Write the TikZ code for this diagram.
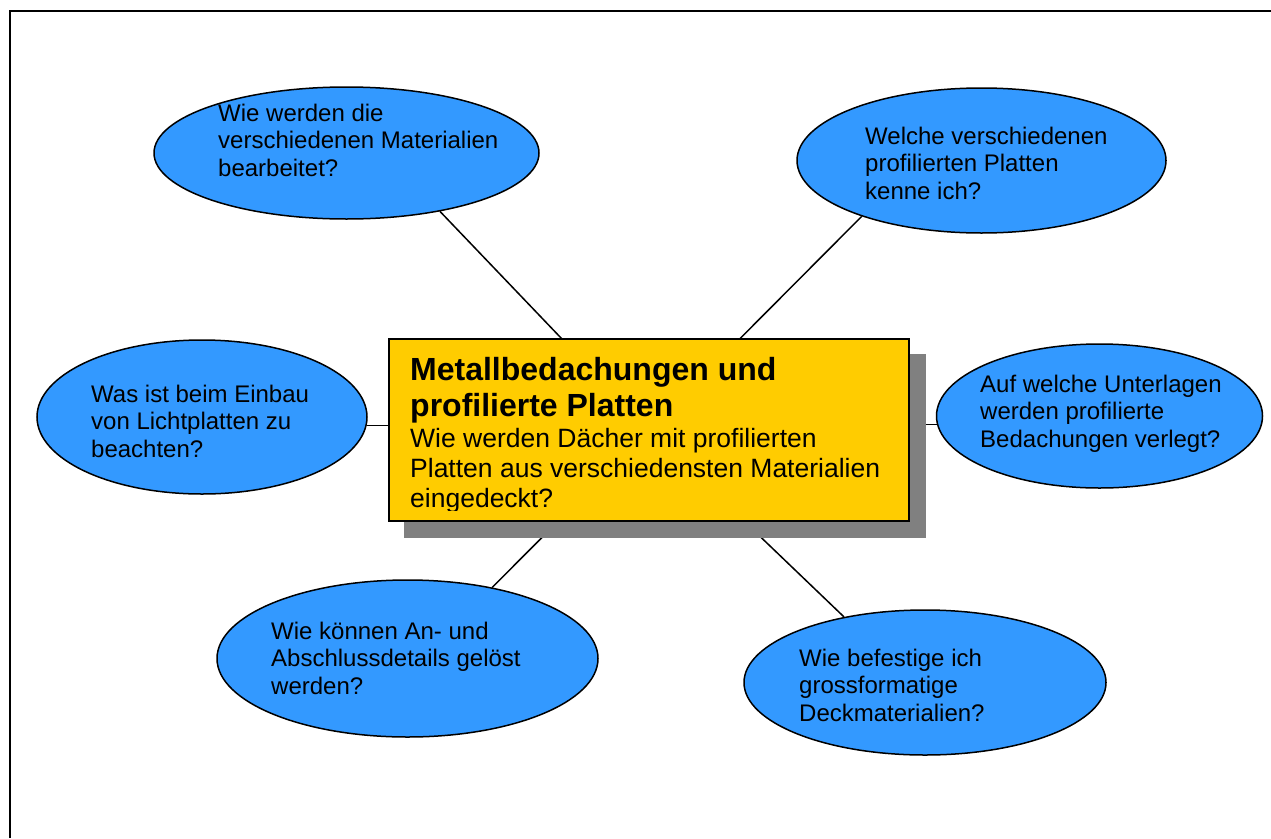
\documentclass[tikz,border=0pt]{standalone}
\usepackage{fontspec}
\setmainfont{Liberation Sans}
\usetikzlibrary{shapes.geometric,calc}
\pgfdeclarelayer{bg}
\pgfsetlayers{bg,main}
\definecolor{qblue}{RGB}{51,153,255}
\definecolor{qyellow}{RGB}{255,204,0}
\definecolor{qshadow}{RGB}{128,128,128}
\begin{document}
\begin{tikzpicture}[x=1pt,y=-1pt,
  bubble/.style={ellipse, draw=black, line width=1.5pt, fill=qblue, inner sep=0pt},
  qtext/.style={anchor=base west, align=left, inner sep=0pt, font=\fontsize{24}{27.6}\selectfont},
  link/.style={draw=black, line width=1.5pt},
  centerbox/.style={draw=black, line width=2pt, fill=qyellow, inner sep=0pt, minimum width=520pt, minimum height=182pt}]
\useasboundingbox (0,0) rectangle (1271,838);
\draw[line width=2pt] (10,838) -- (10,11) -- (1271,11);

% bubbles
\node[bubble, minimum width=385pt, minimum height=132pt] (e1) at (346.5,153) {};
\node[bubble, minimum width=369pt, minimum height=145pt] (e2) at (981.5,160.5) {};
\node[bubble, minimum width=330pt, minimum height=154pt] (e3) at (202,417) {};
\node[bubble, minimum width=326pt, minimum height=144pt] (e4) at (1099.5,416) {};
\node[bubble, minimum width=381pt, minimum height=157pt] (e5) at (407.5,658.5) {};
\node[bubble, minimum width=362pt, minimum height=145pt] (e6) at (925,682.5) {};

% central box
\node[centerbox] (box) at (649,430) {};

% connectors and shadow behind
\begin{pgfonlayer}{bg}
  \draw[link] (e1.-32.5) -- (box.center);
  \draw[link] (e2.205.3) -- (box.center);
  \draw[link] (e3.-3) -- (e3.-3 -| box.west);
  \draw[link] (e4.183) -- (e4.183 -| box.east);
  \draw[link] (e5.40.3) -- (box.center);
  \draw[link] (e6.141.1) -- (box.center);
  \fill[qshadow] ($(box.north west)+(16,16)$) rectangle ($(box.south east)+(16,16)$);
\end{pgfonlayer}

% bubble texts (anchor at baseline of last line)
\node[qtext] (t1) at (218,176.2) {Wie werden die\\verschiedenen Materialien\\bearbeitet?};
\node[qtext] (t2) at (865,199.2) {Welche verschiedenen\\profilierten Platten\\kenne ich?};
\node[qtext] (t3) at (91,457.2) {Was ist beim Einbau\\von Lichtplatten zu\\beachten?};
\node[qtext] (t4) at (980,447.2) {Auf welche Unterlagen\\werden profilierte\\Bedachungen verlegt?};
\node[qtext] (t5) at (271,694.2) {Wie können An- und\\Abschlussdetails gelöst\\werden?};
\node[qtext] (t6) at (799,721.2) {Wie befestige ich\\grossformatige\\Deckmaterialien?};

% box texts
\node[anchor=base west, align=left, inner sep=0pt, font=\bfseries\fontsize{32}{36}\selectfont] (title) at (410,416) {Metallbedachungen und\\profilierte Platten};
\begin{scope}
  \clip (389,339) rectangle (909,510);
  \node[anchor=base west, align=left, inner sep=0pt, font=\fontsize{26.5}{30}\selectfont] (body) at (410,507) {Wie werden Dächer mit profilierten\\Platten aus verschiedensten Materialien\\eingedeckt?};
\end{scope}
\end{tikzpicture}
\end{document}
